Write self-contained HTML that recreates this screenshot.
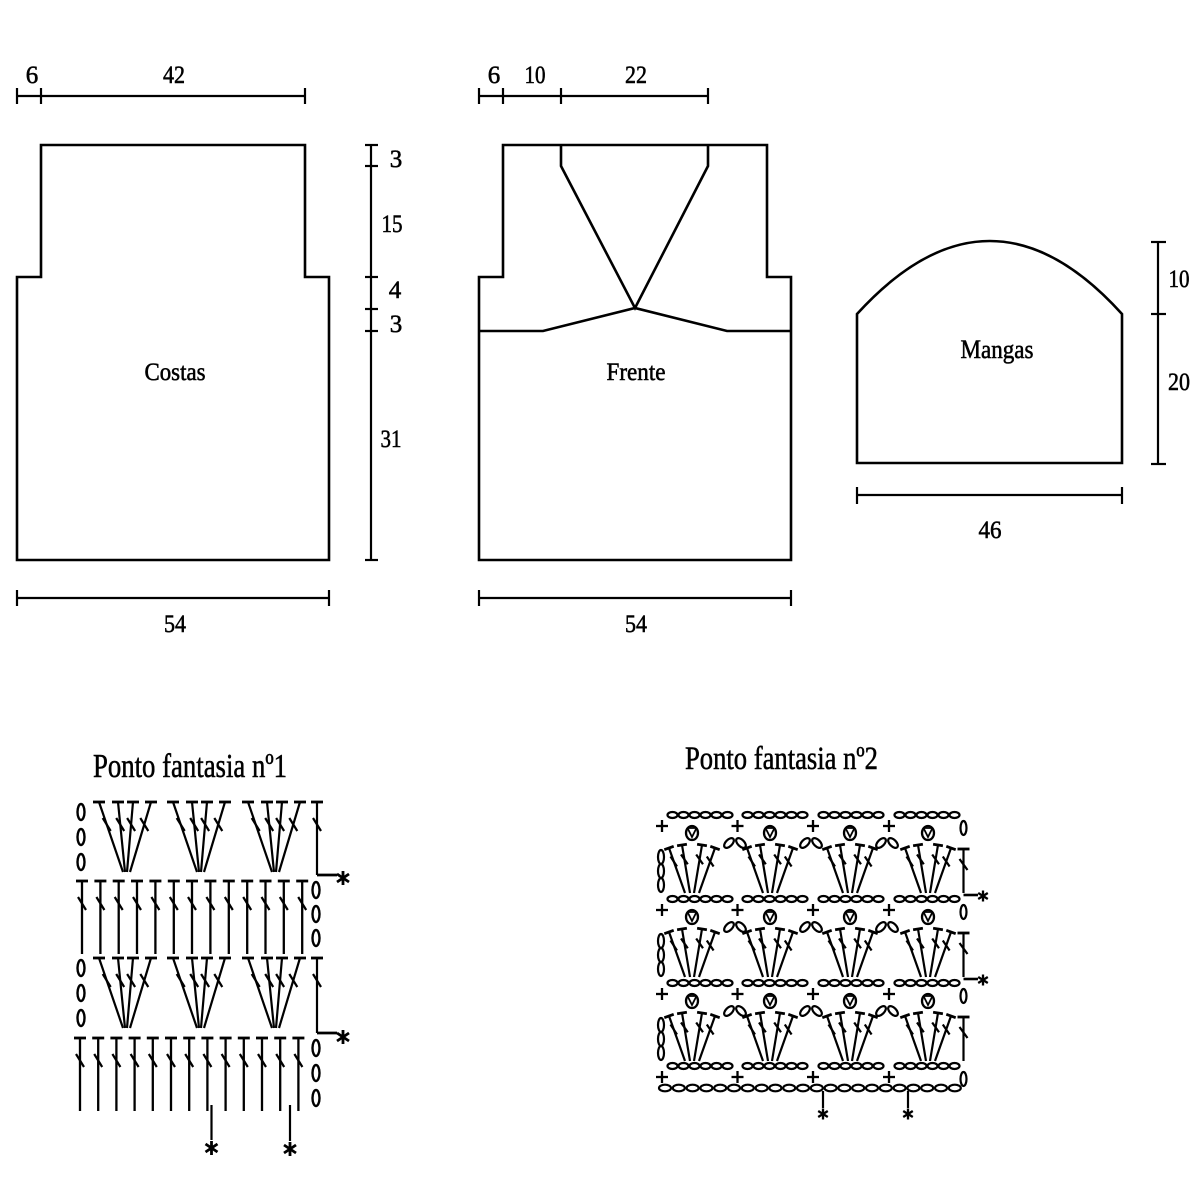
<!DOCTYPE html>
<html><head><meta charset="utf-8"><style>
html,body{margin:0;padding:0;background:#fff;}
svg{display:block;}
text{font-family:"Liberation Serif","DejaVu Serif",serif;fill:#000;stroke:#000;stroke-width:0.55;}
</style></head><body>
<svg width="1200" height="1200" viewBox="0 0 1200 1200" xmlns="http://www.w3.org/2000/svg" xmlns:xlink="http://www.w3.org/1999/xlink">
<rect width="1200" height="1200" fill="#fff"/>
<defs>
<g id="vo"><ellipse cx="0" cy="0" rx="3.5" ry="8" fill="none" stroke="#000" stroke-width="2.4"/></g>
<g id="vo2"><ellipse cx="0" cy="0" rx="3" ry="7" fill="none" stroke="#000" stroke-width="2.2"/></g>
<g id="ast" stroke="#000" stroke-width="2.8" stroke-linecap="butt"><line x1="0" y1="-7" x2="0" y2="7"/><line x1="-6" y1="-4" x2="6" y2="4"/><line x1="-6" y1="4" x2="6" y2="-4"/></g>
<g id="ast2" stroke="#000" stroke-width="2.3"><line x1="0" y1="-5.5" x2="0" y2="5.5"/><line x1="-4.8" y1="-3" x2="4.8" y2="3"/><line x1="-4.8" y1="3" x2="4.8" y2="-3"/></g>
<g id="tr" stroke="#000" fill="none"><line x1="-6" y1="0" x2="6" y2="0" stroke-width="2.8"/><line x1="0" y1="0" x2="0" y2="73" stroke-width="2.3"/><line x1="-4" y1="16" x2="4" y2="29" stroke-width="2.2"/></g>
<g id="fan1" stroke="#000" fill="none">
<g stroke-width="2.8"><line x1="-32" y1="0" x2="-20" y2="0"/><line x1="-13" y1="0" x2="-1" y2="0"/><line x1="2" y1="0" x2="14" y2="0"/><line x1="20" y1="0" x2="32" y2="0"/></g>
<g stroke-width="2.2"><line x1="-26" y1="0" x2="-2" y2="70"/><line x1="-7" y1="0" x2="0" y2="70"/><line x1="8" y1="0" x2="2" y2="70"/><line x1="26" y1="0" x2="5" y2="70"/>
<line x1="-22.3" y1="16" x2="-14.3" y2="29"/><line x1="-8.8" y1="16" x2="-0.8" y2="29"/><line x1="2.1" y1="16" x2="10.1" y2="29"/><line x1="15.3" y1="16" x2="23.3" y2="29"/></g>
</g>
<g id="grp" fill="none" stroke="#000" stroke-width="2.2">
<ellipse cx="5.5" cy="0" rx="5" ry="3"/><ellipse cx="16.5" cy="0" rx="5" ry="3"/><ellipse cx="27.5" cy="0" rx="5" ry="3"/><ellipse cx="38.5" cy="0" rx="5" ry="3"/><ellipse cx="49.5" cy="0" rx="5" ry="3"/><ellipse cx="60.5" cy="0" rx="5" ry="3"/>
</g>
<g id="pl" stroke="#000" stroke-width="2.3"><line x1="-6" y1="0" x2="6" y2="0"/><line x1="0" y1="-6" x2="0" y2="6"/></g>
<g id="fan2" stroke="#000" fill="none">
<ellipse cx="0" cy="18" rx="6" ry="7" stroke-width="2.3"/>
<path d="M-4,14 L0,22 L4,14 M-3.5,13 L3.5,13" stroke-width="1.8"/>
<g stroke-width="2.2"><line x1="-23" y1="33" x2="-7" y2="78"/><line x1="-10" y1="30" x2="-2" y2="78"/><line x1="10" y1="30" x2="2" y2="78"/><line x1="23" y1="33" x2="7" y2="78"/>
<line x1="-21.5" y1="41.5" x2="-15" y2="51.5"/><line x1="-11" y1="39.5" x2="-4.2" y2="49.3"/><line x1="4.2" y1="39.5" x2="11" y2="49.3"/><line x1="14.8" y1="41.5" x2="21.6" y2="51.5"/></g>
<g stroke-width="2.8"><line x1="-27.7" y1="34.7" x2="-18.3" y2="31.3"/><line x1="-14.9" y1="30.8" x2="-5.1" y2="29.2"/><line x1="5.1" y1="29.2" x2="14.9" y2="30.8"/><line x1="18.3" y1="31.3" x2="27.7" y2="34.7"/></g>
</g>
<g id="arch" fill="none" stroke="#000" stroke-width="2.2">
<ellipse cx="0" cy="0" rx="6" ry="3.3" transform="translate(-8,28) rotate(-45)"/>
<ellipse cx="0" cy="0" rx="6" ry="3.3" transform="translate(4,28) rotate(45)"/>
</g>
<g id="lch"><use href="#vo2" x="0" y="42"/><use href="#vo2" x="0" y="56"/><use href="#vo2" x="0" y="70"/></g>
<g id="rtr" stroke="#000" fill="none"><line x1="-6" y1="34" x2="6" y2="34" stroke-width="2.8"/><line x1="0" y1="34" x2="0" y2="78" stroke-width="2.2"/><line x1="-4" y1="44" x2="4" y2="55" stroke-width="2.2"/></g>
</defs>

<!-- ============ COSTAS ============ -->
<g fill="none" stroke="#000" stroke-width="2.6">
<path d="M17,560 L17,277 L41,277 L41,145 L305,145 L305,277 L329,277 L329,560 Z"/>
</g>
<g stroke="#000" stroke-width="2.2">
<line x1="17" y1="96" x2="305" y2="96"/>
<line x1="17" y1="88" x2="17" y2="104"/><line x1="41" y1="88" x2="41" y2="104"/><line x1="305" y1="88" x2="305" y2="104"/>
<line x1="371" y1="145" x2="371" y2="560"/>
<line x1="365" y1="145" x2="378" y2="145"/><line x1="365" y1="166" x2="378" y2="166"/><line x1="365" y1="277" x2="378" y2="277"/><line x1="365" y1="309" x2="378" y2="309"/><line x1="365" y1="331" x2="378" y2="331"/><line x1="365" y1="560" x2="378" y2="560"/>
<line x1="17" y1="598" x2="329" y2="598"/>
<line x1="17" y1="590" x2="17" y2="606"/><line x1="329" y1="590" x2="329" y2="606"/>
</g>
<g font-size="25" text-anchor="middle">
<text x="32" y="83">6</text>
<text x="174" y="83" textLength="22" lengthAdjust="spacingAndGlyphs">42</text>
<text x="396" y="167">3</text>
<text x="392" y="232" textLength="21" lengthAdjust="spacingAndGlyphs">15</text>
<text x="395" y="298">4</text>
<text x="396" y="332">3</text>
<text x="391" y="447" textLength="21" lengthAdjust="spacingAndGlyphs">31</text>
<text x="175" y="632" textLength="22" lengthAdjust="spacingAndGlyphs">54</text>
</g>
<text x="175" y="380" font-size="25" text-anchor="middle" textLength="61" lengthAdjust="spacingAndGlyphs">Costas</text>

<!-- ============ FRENTE ============ -->
<g fill="none" stroke="#000" stroke-width="2.6">
<path d="M479,560 L479,277 L503,277 L503,145 L767,145 L767,277 L791,277 L791,560 Z"/>
<path d="M561,145 L561,166 L635,308 L708,166 L708,145"/>
<path d="M479,331 L543,331 L635,308 L727,331 L791,331"/>
</g>
<g stroke="#000" stroke-width="2.2">
<line x1="479" y1="96" x2="708" y2="96"/>
<line x1="479" y1="88" x2="479" y2="104"/><line x1="503" y1="88" x2="503" y2="104"/><line x1="561" y1="88" x2="561" y2="104"/><line x1="708" y1="88" x2="708" y2="104"/>
<line x1="479" y1="598" x2="791" y2="598"/>
<line x1="479" y1="590" x2="479" y2="606"/><line x1="791" y1="590" x2="791" y2="606"/>
</g>
<g font-size="25" text-anchor="middle">
<text x="494" y="83">6</text>
<text x="535" y="83" textLength="21" lengthAdjust="spacingAndGlyphs">10</text>
<text x="636" y="83" textLength="22" lengthAdjust="spacingAndGlyphs">22</text>
<text x="636" y="632" textLength="22" lengthAdjust="spacingAndGlyphs">54</text>
</g>
<text x="636" y="380" font-size="25" text-anchor="middle" textLength="59" lengthAdjust="spacingAndGlyphs">Frente</text>

<!-- ============ MANGAS ============ -->
<g fill="none" stroke="#000" stroke-width="2.6">
<path d="M857,463 L857,314 Q990,168 1122,314 L1122,463 Z"/>
</g>
<g stroke="#000" stroke-width="2.2">
<line x1="1158" y1="242" x2="1158" y2="464"/>
<line x1="1151" y1="242" x2="1166" y2="242"/><line x1="1151" y1="314" x2="1166" y2="314"/><line x1="1151" y1="464" x2="1166" y2="464"/>
<line x1="857" y1="495" x2="1122" y2="495"/>
<line x1="857" y1="487" x2="857" y2="504"/><line x1="1122" y1="487" x2="1122" y2="504"/>
</g>
<g font-size="25" text-anchor="middle">
<text x="1179" y="287" textLength="21" lengthAdjust="spacingAndGlyphs">10</text>
<text x="1179" y="390" textLength="22" lengthAdjust="spacingAndGlyphs">20</text>
<text x="990" y="538" textLength="23" lengthAdjust="spacingAndGlyphs">46</text>
</g>
<text x="997" y="358" font-size="26" text-anchor="middle" textLength="73" lengthAdjust="spacingAndGlyphs">Mangas</text>

<!-- ============ TITLES ============ -->
<text x="93" y="777" font-size="34" textLength="194" lengthAdjust="spacingAndGlyphs">Ponto fantasia nº1</text>
<text x="685" y="769" font-size="33" textLength="193" lengthAdjust="spacingAndGlyphs">Ponto fantasia nº2</text>

<!-- ============ CHART 1 ============ -->
<use href="#vo" x="81" y="812"/><use href="#vo" x="81" y="837"/><use href="#vo" x="81" y="862"/>
<use href="#fan1" x="125" y="802"/><use href="#fan1" x="199" y="802"/><use href="#fan1" x="274" y="802"/>
<g stroke="#000" fill="none">
<line x1="311" y1="802" x2="323" y2="802" stroke-width="2.8"/>
<line x1="317" y1="802" x2="317" y2="875" stroke-width="2.2"/>
<line x1="313" y1="818" x2="321" y2="831" stroke-width="2.2"/>
<line x1="317" y1="875" x2="337" y2="875" stroke-width="2.8"/>
</g>
<use href="#ast" x="343" y="878"/>
<use href="#tr" x="82" y="881"/><use href="#tr" x="100.4" y="881"/><use href="#tr" x="118.7" y="881"/><use href="#tr" x="137" y="881"/><use href="#tr" x="155.4" y="881"/><use href="#tr" x="173.8" y="881"/><use href="#tr" x="192" y="881"/><use href="#tr" x="210.4" y="881"/><use href="#tr" x="228.8" y="881"/><use href="#tr" x="247.2" y="881"/><use href="#tr" x="265.5" y="881"/><use href="#tr" x="283.8" y="881"/><use href="#tr" x="302.2" y="881"/>
<use href="#vo" x="316" y="890"/><use href="#vo" x="316" y="914"/><use href="#vo" x="316" y="938"/>
<use href="#vo" x="81" y="968"/><use href="#vo" x="81" y="993"/><use href="#vo" x="81" y="1018"/>
<use href="#fan1" x="125" y="958"/><use href="#fan1" x="199" y="958"/><use href="#fan1" x="274" y="958"/>
<g stroke="#000" fill="none">
<line x1="311" y1="958" x2="323" y2="958" stroke-width="2.8"/>
<line x1="317" y1="958" x2="317" y2="1033" stroke-width="2.2"/>
<line x1="313" y1="974" x2="321" y2="987" stroke-width="2.2"/>
<line x1="317" y1="1033" x2="337" y2="1033" stroke-width="2.8"/>
</g>
<use href="#ast" x="343" y="1037"/>
<use href="#tr" x="80" y="1038"/><use href="#tr" x="98.2" y="1038"/><use href="#tr" x="116.4" y="1038"/><use href="#tr" x="134.6" y="1038"/><use href="#tr" x="152.8" y="1038"/><use href="#tr" x="171" y="1038"/><use href="#tr" x="189.2" y="1038"/><use href="#tr" x="207.4" y="1038"/><use href="#tr" x="225.6" y="1038"/><use href="#tr" x="243.8" y="1038"/><use href="#tr" x="262" y="1038"/><use href="#tr" x="280.2" y="1038"/><use href="#tr" x="298.4" y="1038"/>
<use href="#vo" x="316" y="1048"/><use href="#vo" x="316" y="1073"/><use href="#vo" x="316" y="1098"/>
<g stroke="#000" stroke-width="2.2"><line x1="211.5" y1="1105" x2="211.5" y2="1140"/><line x1="290" y1="1105" x2="290" y2="1141"/></g>
<use href="#ast" x="211.5" y="1148"/><use href="#ast" x="290" y="1149"/>

<!-- ============ CHART 2 ============ -->
<g id="crow">
<use href="#grp" x="667" y="815"/><use href="#grp" x="742" y="815"/><use href="#grp" x="818" y="815"/><use href="#grp" x="894" y="815"/>
<use href="#pl" x="662" y="826"/><use href="#pl" x="737.5" y="826"/><use href="#pl" x="813" y="826"/><use href="#pl" x="889" y="826"/>
<use href="#vo2" x="963.5" y="828"/>
</g>
<use href="#crow" x="0" y="84"/>
<use href="#crow" x="0" y="168"/>
<use href="#crow" x="0" y="251"/>

<g id="frow">
<use href="#fan2" x="692" y="815"/><use href="#fan2" x="770" y="815"/><use href="#fan2" x="850" y="815"/><use href="#fan2" x="928" y="815"/>
<use href="#arch" x="737" y="815"/><use href="#arch" x="813" y="815"/><use href="#arch" x="889" y="815"/>
<use href="#lch" x="661" y="815"/>
<use href="#rtr" x="963.5" y="815"/>
</g>
<use href="#frow" x="0" y="84"/>
<use href="#frow" x="0" y="168"/>
<g stroke="#000" stroke-width="2.6">
<line x1="963.5" y1="895" x2="978" y2="895"/>
<line x1="963.5" y1="979" x2="978" y2="979"/>
</g>
<use href="#ast2" x="983" y="896"/><use href="#ast2" x="983" y="980"/>

<g fill="none" stroke="#000" stroke-width="2.2">
<ellipse cx="665" cy="1088" rx="6" ry="3.3"/><ellipse cx="678.8" cy="1088" rx="6" ry="3.3"/><ellipse cx="692.6" cy="1088" rx="6" ry="3.3"/><ellipse cx="706.4" cy="1088" rx="6" ry="3.3"/><ellipse cx="720.2" cy="1088" rx="6" ry="3.3"/><ellipse cx="734" cy="1088" rx="6" ry="3.3"/><ellipse cx="747.8" cy="1088" rx="6" ry="3.3"/><ellipse cx="761.6" cy="1088" rx="6" ry="3.3"/><ellipse cx="775.4" cy="1088" rx="6" ry="3.3"/><ellipse cx="789.2" cy="1088" rx="6" ry="3.3"/><ellipse cx="803" cy="1088" rx="6" ry="3.3"/><ellipse cx="816.8" cy="1088" rx="6" ry="3.3"/><ellipse cx="830.6" cy="1088" rx="6" ry="3.3"/><ellipse cx="844.4" cy="1088" rx="6" ry="3.3"/><ellipse cx="858.2" cy="1088" rx="6" ry="3.3"/><ellipse cx="872" cy="1088" rx="6" ry="3.3"/><ellipse cx="885.8" cy="1088" rx="6" ry="3.3"/><ellipse cx="899.6" cy="1088" rx="6" ry="3.3"/><ellipse cx="913.4" cy="1088" rx="6" ry="3.3"/><ellipse cx="927.2" cy="1088" rx="6" ry="3.3"/><ellipse cx="941" cy="1088" rx="6" ry="3.3"/><ellipse cx="954.8" cy="1088" rx="6" ry="3.3"/>
</g>
<g stroke="#000" stroke-width="2.2"><line x1="823" y1="1091" x2="823" y2="1108"/><line x1="908" y1="1091" x2="908" y2="1108"/></g>
<use href="#ast2" x="823" y="1114"/><use href="#ast2" x="908" y="1114"/>
</svg>
</body></html>
